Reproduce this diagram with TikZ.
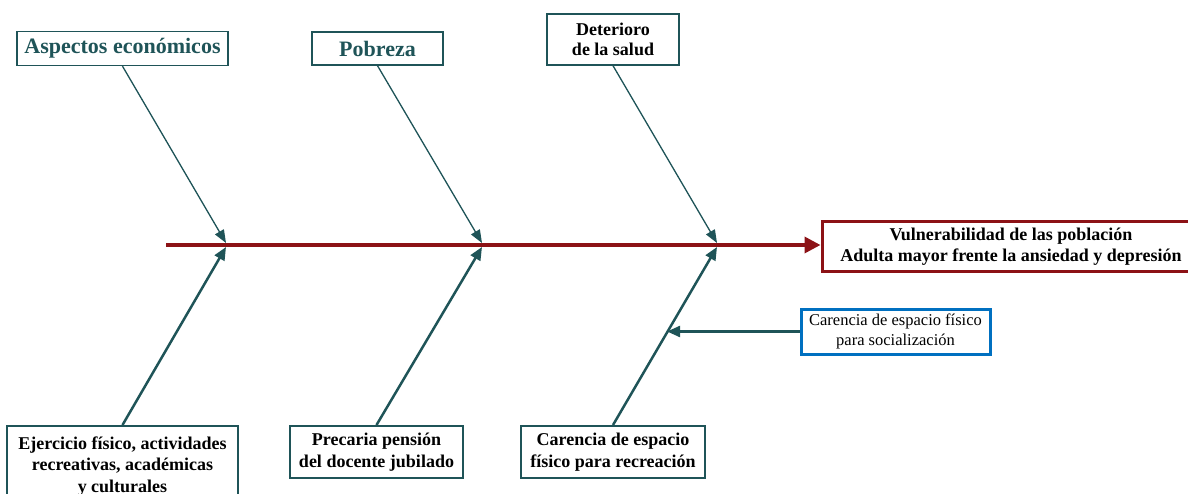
\documentclass[tikz,border=0pt]{standalone}
\usepackage{fontspec}
\setmainfont{Liberation Serif}
\usepackage{tikz}
\usetikzlibrary{arrows.meta,positioning}
\definecolor{spineRed}{RGB}{140,18,22}
\definecolor{boneTeal}{RGB}{31,84,88}
\definecolor{noteBlue}{RGB}{0,112,192}
\tikzset{
  causeTop/.style={draw=boneTeal, line width=1.4pt, fill=white, inner sep=0pt, align=center,
    font=\bfseries\fontsize{22}{24}\selectfont, text=boneTeal},   % upper causes
  causeBot/.style={draw=boneTeal, line width=2.4pt, fill=white, inner sep=0pt, align=center,
    font=\bfseries\fontsize{18}{21.5}\selectfont},                 % lower causes
  effectBox/.style={draw=spineRed, line width=3pt, fill=white, inner sep=0pt, align=center,
    font=\bfseries\fontsize{18}{21}\selectfont},
  noteBox/.style={draw=noteBlue, line width=3pt, fill=white, inner sep=0pt, align=center,
    font=\fontsize{16.5}{20}\selectfont},
  spineArrow/.style={-{Triangle[length=16pt,width=16pt]}, draw=spineRed, line width=3.5pt},
  boneThin/.style={-{Triangle[length=13pt,width=10pt]}, draw=boneTeal, fill=boneTeal, line width=1.3pt},
  boneThick/.style={-{Triangle[length=13pt,width=11pt]}, draw=boneTeal, fill=boneTeal, line width=2.5pt}
}

\begin{document}
\begin{tikzpicture}[x=1pt,y=-1pt]
  \useasboundingbox (0,0) rectangle (1188,494);
  \clip (0,0) rectangle (1188,494);
  % spine and effect
  \coordinate (tail) at (166,245);
  \node[effectBox, minimum width=378pt, minimum height=50pt] (effect) at (1011,246.5)
    {Vulnerabilidad de las población\\Adulta mayor frente la ansiedad y depresión};
  \draw[spineArrow] (tail) -- (tail -| effect.west);
  % upper causes
  \node[causeTop, minimum width=211pt, minimum height=34pt] (t1) at (122.5,48.5) {Aspectos económicos};
  \node[causeTop, minimum width=131pt, minimum height=33pt] (t2) at (377.5,48.5) {Pobreza};
  \node[causeTop, text=black, font=\bfseries\fontsize{18}{19.5}\selectfont,
        minimum width=132pt, minimum height=51pt] (t3) at (613,39.5) {Deterioro\\de la salud};
  % lower causes
  \node[causeBot, minimum width=231pt, minimum height=80pt, anchor=north] (b1) at (122.5,425)
    {Ejercicio físico, actividades\\recreativas, académicas\\y culturales};
  \node[causeBot, minimum width=173pt, minimum height=52pt, anchor=north] (b2) at (376.5,425)
    {Precaria pensión\\del docente jubilado};
  \node[causeBot, minimum width=184pt, minimum height=52pt, anchor=north] (b3) at (613,425)
    {Carencia de espacio\\físico para recreación};
  % sub cause
  \node[noteBox, minimum width=189pt, minimum height=45pt] (sub) at (895.5,331.5)
    {Carencia de espacio físico\\para socialización};
  % meeting points on the spine
  \coordinate (u1) at (226,243); \coordinate (l1) at (226,247);
  \coordinate (u2) at (482,243); \coordinate (l2) at (482,247);
  \coordinate (u3) at (717,243); \coordinate (l3) at (717,247);
  % bones
  \foreach \i in {1,2,3}{
    \draw[boneThin] (t\i.south) -- (u\i);
  }
  \draw[boneThick] (b1.north) -- (l1);
  \draw[boneThick] (b2.north) -- (l2);
  \draw[boneThick] (b3.north) -- coordinate[pos=0.52] (k3) (l3);
  \draw[boneThick] (sub.west) -- (sub.west -| k3);
\end{tikzpicture}
\end{document}
